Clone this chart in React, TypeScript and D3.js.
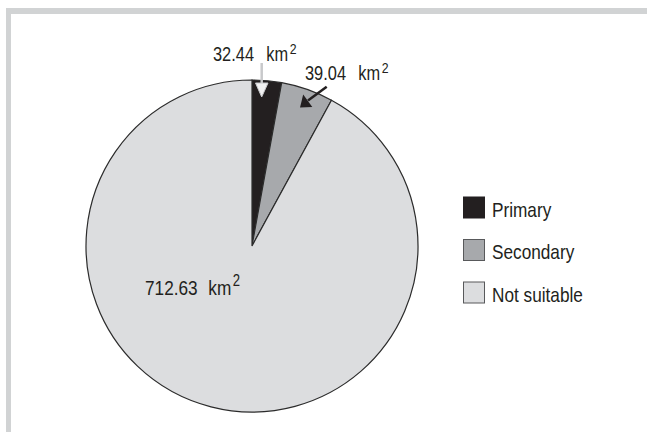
import React from 'react'
import * as d3 from 'd3'

// categories, shown areas and the slice sizes as drawn in the figure (degrees)
const categories = ['Primary', 'Secondary', 'Not suitable']
const areas = ['32.44', '39.04', '712.63']
const drawnDegrees = [10.3, 18.3, 331.4]
const colors = ['#231f20', '#a7a9ac', '#dcdddf']

const W = 647
const H = 432
const cx = 252
const cy = 246
const radius = 166
const FONT = "'Liberation Sans', Arial, Helvetica, sans-serif"
const NARROW = 0.82 // the figure uses a narrow sans; squeeze Liberation Sans to match

const Narrow = ({ x, y, children }: any) => (
  <g transform={`translate(${x},${y}) scale(${NARROW},1)`}>{children}</g>
)

const Label = ({ x, y, value, size, supSize, gap, rise }: any) => (
  <Narrow x={x} y={y}>
    <text x={0} y={0} fontSize={size} fill="#231f20" fontFamily={FONT}>
      <tspan>{value}</tspan>
      <tspan dx={gap}>km</tspan>
      <tspan dx={2} dy={-rise} fontSize={supSize}>2</tspan>
    </text>
  </Narrow>
)

const App = () => {
  const rows = categories.map((c, i) => ({ name: c, value: drawnDegrees[i], color: colors[i], area: areas[i] }))
  const pie = d3.pie<any>().value(d => d.value).sort(null)
  const arcs = pie(rows)
  const arc = d3.arc<any>().innerRadius(0).outerRadius(radius)

  const legendY = d3.scalePoint().domain(categories).range([207, 292])

  return (
    <svg width={W} height={H} style={{ position: 'absolute', left: 0, top: 0, background: '#fff' }}>
      {/* frame */}
      <rect x={6} y={8} width={W - 6} height={6} fill="#d1d3d4" />
      <rect x={6} y={8} width={5} height={H - 8} fill="#d1d3d4" />

      <g transform={`translate(${cx},${cy})`}>
        {arcs.map((a, i) => (
          <path key={i} d={arc(a) || ''} fill={a.data.color} stroke="#2b2b2b" strokeWidth={1.2} />
        ))}
      </g>

      {/* white arrow into Primary */}
      <line x1={cx + 9.7} y1={63} x2={cx + 9.7} y2={86} stroke="#c8c9cb" strokeWidth={2.5} />
      <path d={`M${cx + 3.5},${83} L${cx + 16},${83} L${cx + 9.7},${97} Z`} fill="#f1f1f2" stroke="#c8c9cb" strokeWidth={1} />

      {/* black arrow into Secondary */}
      <line x1={326.7} y1={86.7} x2={308} y2={100.5} stroke="#231f20" strokeWidth={2.5} />
      <path d="M300,107.5 L303.2,94.6 L312.3,106.9 Z" fill="#231f20" />

      <Label x={213} y={61} value={rows[0].area} size={20} supSize={15} gap={15} rise={7} />
      <Label x={305} y={80} value={rows[1].area} size={20} supSize={15} gap={15} rise={7} />
      <Label x={145} y={295} value={rows[2].area} size={21} supSize={16} gap={13} rise={9} />

      {/* legend */}
      {rows.map(r => (
        <g key={r.name} transform={`translate(463,${(legendY(r.name) as number) - 10.5})`}>
          <rect x={0.5} y={0.5} width={21} height={21} fill={r.color} stroke={r.name === 'Primary' ? '#231f20' : '#58595b'} strokeWidth={1} />
          <Narrow x={29} y={20}>
            <text x={0} y={0} fontSize={21} fill="#231f20" fontFamily={FONT}>{r.name}</text>
          </Narrow>
        </g>
      ))}
    </svg>
  )
}

export default App
